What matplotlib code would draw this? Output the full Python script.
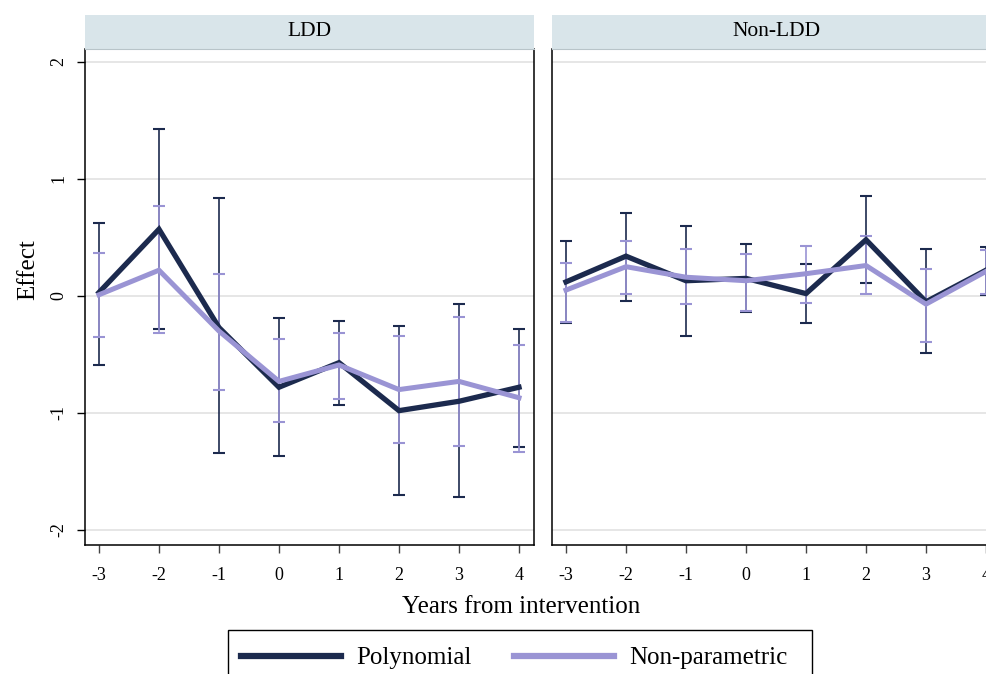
import numpy as np
import matplotlib
matplotlib.use("Agg")
import matplotlib.pyplot as plt
from matplotlib.patches import Rectangle

plt.rcParams["font.family"] = ["Liberation Serif", "DejaVu Serif"]

# Data
years = [-3, -2, -1, 0, 1, 2, 3, 4]
panels = ["LDD", "Non-LDD"]

ldd_poly = [0.03, 0.57, -0.27, -0.78, -0.57, -0.98, -0.90, -0.78]
ldd_poly_lo = [-0.59, -0.28, -1.34, -1.37, -0.93, -1.70, -1.72, -1.29]
ldd_poly_hi = [0.62, 1.43, 0.84, -0.19, -0.21, -0.26, -0.07, -0.28]

ldd_np = [0.01, 0.22, -0.30, -0.73, -0.59, -0.80, -0.73, -0.87]
ldd_np_lo = [-0.35, -0.32, -0.80, -1.08, -0.88, -1.26, -1.28, -1.33]
ldd_np_hi = [0.37, 0.77, 0.19, -0.37, -0.32, -0.34, -0.18, -0.42]

non_poly = [0.12, 0.34, 0.13, 0.15, 0.02, 0.48, -0.05, 0.22]
non_poly_lo = [-0.23, -0.04, -0.34, -0.14, -0.23, 0.11, -0.49, 0.01]
non_poly_hi = [0.47, 0.71, 0.60, 0.44, 0.27, 0.85, 0.40, 0.42]

non_np = [0.05, 0.25, 0.16, 0.13, 0.19, 0.26, -0.07, 0.21]
non_np_lo = [-0.22, 0.02, -0.07, -0.13, -0.06, 0.02, -0.39, 0.02]
non_np_hi = [0.28, 0.47, 0.40, 0.36, 0.43, 0.51, 0.23, 0.39]

series = {
    "LDD": [(ldd_poly, ldd_poly_lo, ldd_poly_hi), (ldd_np, ldd_np_lo, ldd_np_hi)],
    "Non-LDD": [(non_poly, non_poly_lo, non_poly_hi), (non_np, non_np_lo, non_np_hi)],
}

navy = "#1c2a4e"
lavender = "#9a94d4"
strip_color = "#d9e5ea"

W, H = 987, 674
fig = plt.figure(figsize=(W / 100, H / 100), dpi=100)

def fx(px):
    return px / W

def fy(py):
    return 1 - py / H

ax_left = [85, 552]
ax_w = 449
top, bottom = 49, 545

for i, name in enumerate(panels):
    x0 = ax_left[i]
    ax = fig.add_axes([fx(x0), fy(bottom), fx(ax_w), fy(top) - fy(bottom)])
    ax.set_xlim(-3.233, 4.25)
    ax.set_ylim(-2.128, 2.11)
    for yv in [-2, -1, 0, 1, 2]:
        ax.axhline(yv, color="#e2e2e2", lw=1.2, zorder=0)

    (p, plo, phi), (n, nlo, nhi) = series[name]
    ax.errorbar(years, p, yerr=[np.array(p) - np.array(plo), np.array(phi) - np.array(p)],
                fmt="none", ecolor=navy, elinewidth=1.2, capsize=4, capthick=1.5, zorder=2)
    ax.errorbar(years, n, yerr=[np.array(n) - np.array(nlo), np.array(nhi) - np.array(n)],
                fmt="none", ecolor=lavender, elinewidth=1.2, capsize=4, capthick=1.5, zorder=3)
    ax.plot(years, p, color=navy, lw=3.8, zorder=4, solid_joinstyle="miter")
    ax.plot(years, n, color=lavender, lw=3.6, zorder=5, solid_joinstyle="miter")

    ax.spines["top"].set_visible(False)
    for s in ["left", "bottom", "right"]:
        ax.spines[s].set_linewidth(1.1)
    ax.set_xticks(years)
    ax.set_xticklabels([str(v) for v in years])
    ax.tick_params(axis="x", direction="out", length=6, width=1.0, pad=10,
                   labelsize=13, color="#444444")
    if i == 0:
        ax.set_yticks([-2, -1, 0, 1, 2])
        ax.set_yticklabels(["-2", "-1", "0", "1", "2"], rotation=90, va="center")
        ax.tick_params(axis="y", direction="out", length=6, width=1.0, pad=7,
                       labelsize=13)
    else:
        ax.set_yticks([])

    # strip title
    sax = fig.add_axes([fx(x0), fy(top), fx(ax_w), fy(15) - fy(top)])
    sax.set_facecolor(strip_color)
    sax.set_xticks([])
    sax.set_yticks([])
    for s in ["top", "left", "right"]:
        sax.spines[s].set_visible(False)
    sax.spines["bottom"].set_color("#b8c4c9")
    sax.spines["bottom"].set_linewidth(0.8)
    sax.text(0.5, 0.5, name, ha="center", va="center", fontsize=15.5,
             transform=sax.transAxes)

fig.text(fx(521), fy(607), "Years from intervention", ha="center", va="center", fontsize=18)
fig.text(fx(28), fy(270), "Effect", ha="center", va="center", rotation=90, fontsize=18)

# legend box (runs past the bottom edge, as in the reference)
fig.patches.append(Rectangle((fx(228), fy(700)), fx(812) - fx(228), fy(630) - fy(700),
                             transform=fig.transFigure, fill=False, edgecolor="black",
                             lw=1.0))
handles = [plt.Line2D([], [], color=navy, lw=4.5),
           plt.Line2D([], [], color=lavender, lw=4.5)]
fig.legend(handles, ["Polynomial", "Non-parametric"], loc="center left",
           bbox_to_anchor=(fx(241), fy(658)), ncol=2, frameon=False, fontsize=18,
           borderpad=0, borderaxespad=0, handlelength=4.0, handletextpad=0.6,
           columnspacing=1.7)

fig.savefig("out.png", dpi=100)
